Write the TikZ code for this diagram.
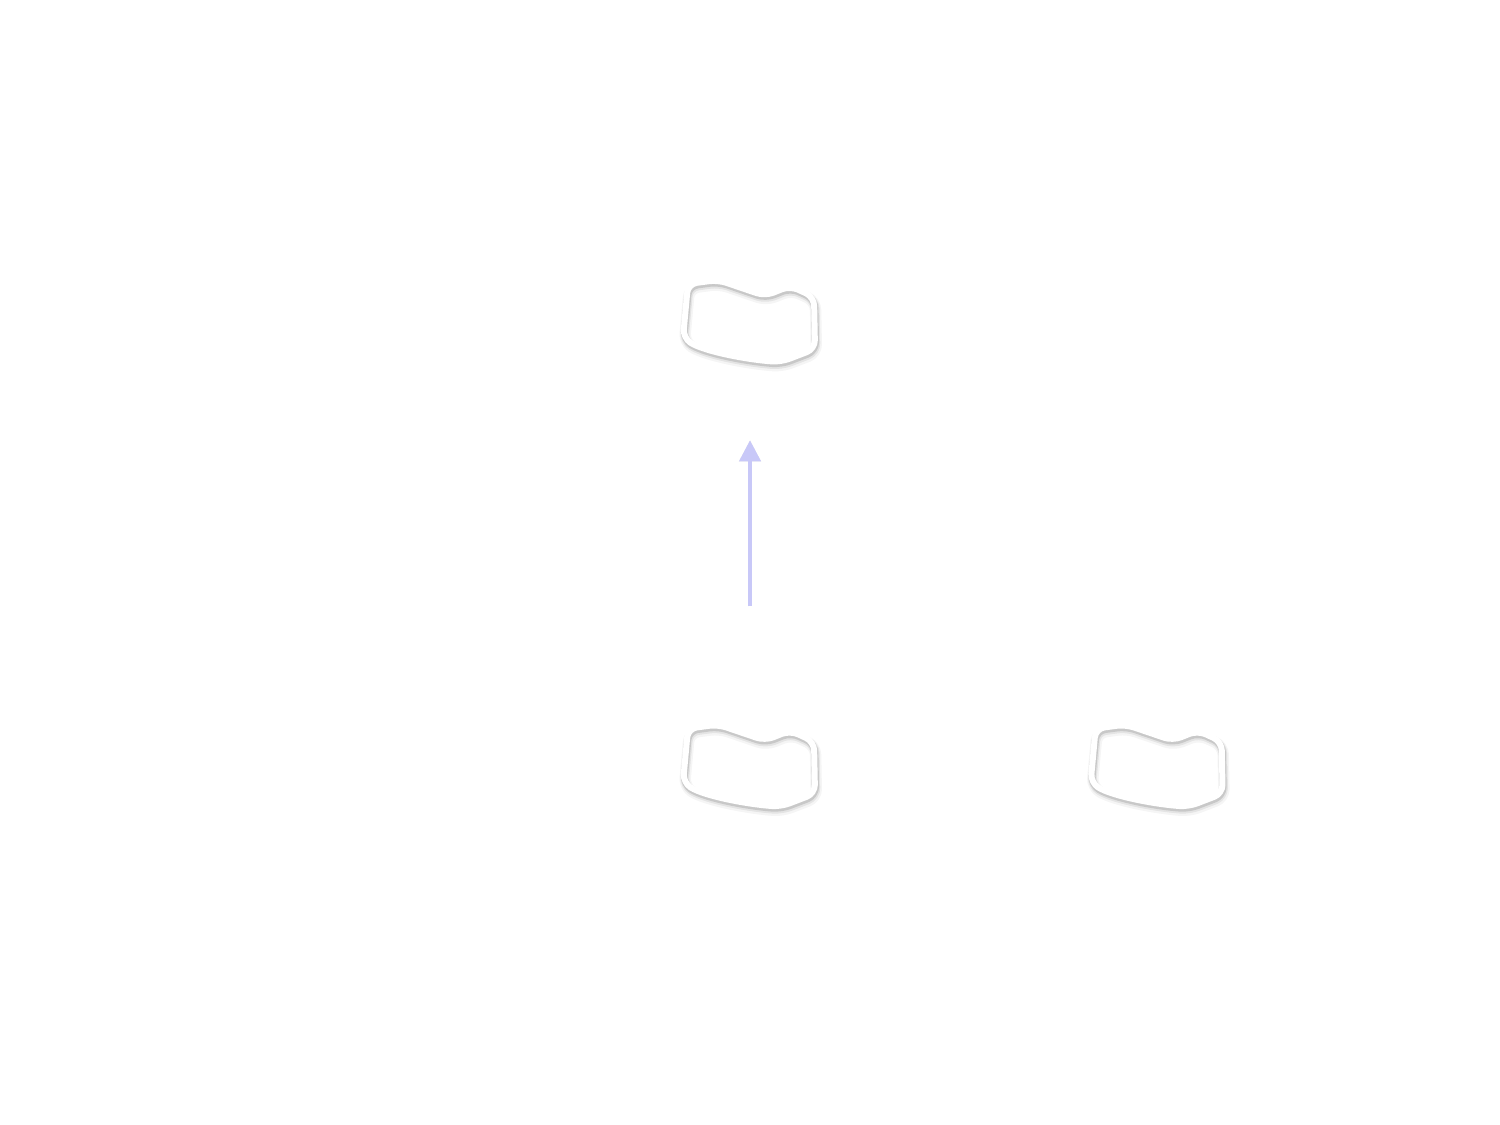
\documentclass[tikz,border=0pt]{standalone}
\usepackage{tikz}
\usetikzlibrary{positioning,arrows.meta}

\definecolor{linkblue}{RGB}{200,200,248}

\tikzset{
	blobnode/.style={minimum width=2.7cm,minimum height=1.7cm,inner sep=0pt},
	blobline/.style={draw=white,line width=3.4pt,rounded corners=5pt,line join=round},
	blobshade/.style={draw=black,rounded corners=5pt,line join=round},
	link/.style={draw=linkblue,line width=2.2pt,-{Triangle[width=0.42cm,length=0.42cm]}},
	pics/blob/.style={code={
		% soft shadow under the outline
		\foreach \w/\o/\s in {6.5pt/.04/1.6,5pt/.07/1.2,4pt/.12/0.8}
			\draw[blobshade,line width=\w,opacity=\o,xshift=\s*0.5pt,yshift=-\s*1.5pt]
				(-62,38) -- (-32,42) -- (15,26) -- (40,36) -- (64,25) -- (65,-27)
				-- (31,-40) .. controls (0,-38) and (-45,-30) .. (-67,-16) -- cycle;
		\draw[blobline]
			(-62,38) -- (-32,42) -- (15,26) -- (40,36) -- (64,25) -- (65,-27)
			-- (31,-40) .. controls (0,-38) and (-45,-30) .. (-67,-16) -- cycle;
	}}
}

\begin{document}
\begin{tikzpicture}[x=0.02cm,y=0.02cm]
	\useasboundingbox (0,0) rectangle (1500,1125);

	\node[blobnode] (top) at (750,803) {};
	\node[blobnode,below=7.18cm of top] (low) {};
	\node[blobnode,right=5.44cm of low] (side) {};

	\pic at (top) {blob};
	\pic at (low) {blob};
	\pic at (side) {blob};

	\draw[link,draw=black,opacity=.08,shorten <=2.35cm,shorten >=1.51cm,xshift=0.5pt,yshift=-1pt] (low) -- (top);
	\draw[link,shorten <=2.35cm,shorten >=1.51cm] (low) -- (top);
\end{tikzpicture}
\end{document}
